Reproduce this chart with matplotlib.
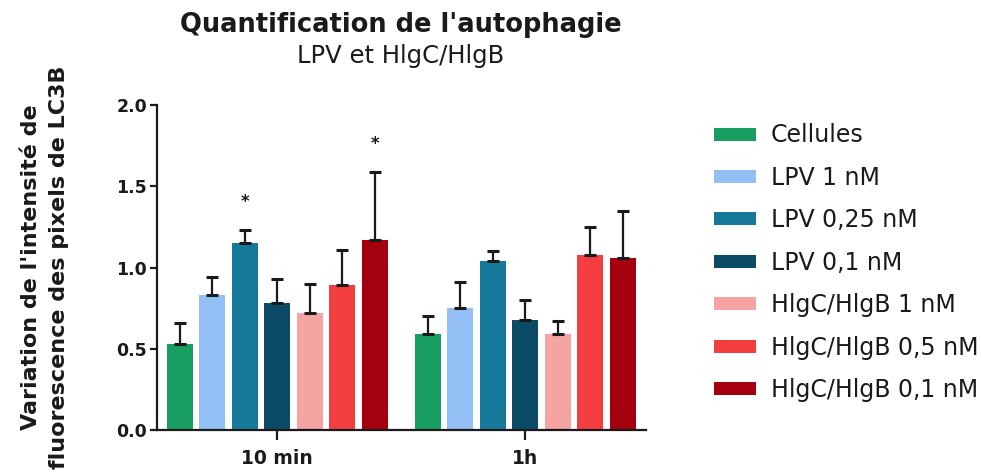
#!/usr/bin/env python3

import numpy as np
import matplotlib
matplotlib.use("Agg")
import matplotlib.pyplot as plt

groups = ["10 min", "1h"]
conditions = ["Cellules", "LPV 1 nM", "LPV 0,25 nM", "LPV 0,1 nM",
              "HlgC/HlgB 1 nM", "HlgC/HlgB 0,5 nM", "HlgC/HlgB 0,1 nM"]
colors = ["#179e60", "#93c0f4", "#16799a", "#0c4b66",
          "#f6a3a3", "#f23e3e", "#a4000e"]

# mean and upper error per condition, one list per time point
mean_10min = [0.53, 0.83, 1.15, 0.78, 0.72, 0.89, 1.17]
err_10min = [0.13, 0.11, 0.08, 0.15, 0.18, 0.22, 0.42]
mean_1h = [0.59, 0.75, 1.04, 0.68, 0.59, 1.08, 1.06]
err_1h = [0.11, 0.16, 0.06, 0.12, 0.08, 0.17, 0.29]

# significant bars: (group index, condition index)
stars = [(0, 2), (0, 6)]

plt.rcParams["font.family"] = ["DejaVu Sans"]

fig = plt.figure(figsize=(9.82, 4.75), dpi=100)
ax = fig.add_axes([0.1596, 0.0947, 0.4983, 0.684])

group_x = np.array([0.0, 7.62])
offsets = np.arange(len(conditions)) - 3
means = [mean_10min, mean_1h]
errs = [err_10min, err_1h]

for i, (name, col) in enumerate(zip(conditions, colors)):
    xs = group_x + offsets[i]
    ys = [means[0][i], means[1][i]]
    es = [errs[0][i], errs[1][i]]
    ax.bar(xs, ys, width=0.8, color=col, label=name, zorder=2)
    ax.errorbar(xs, ys, yerr=[[0, 0], es], fmt="none", ecolor="#1a1a1a",
                elinewidth=1.6, capsize=4.5, capthick=2.2, zorder=3)

for g, i in stars:
    top = means[g][i] + errs[g][i]
    ax.text(group_x[g] + offsets[i], top + 0.14, "*", ha="center",
            va="baseline", fontsize=12, fontweight="bold", color="#1a1a1a")

ax.set_xlim(-3.71, group_x[1] + 3.72)
ax.set_ylim(0, 2.0)
ax.set_yticks(np.arange(0, 2.01, 0.5))
ax.set_yticklabels(["%.1f" % v for v in np.arange(0, 2.01, 0.5)])
ax.set_xticks(group_x)
ax.set_xticklabels(groups)

for side in ("top", "right"):
    ax.spines[side].set_visible(False)
for side in ("left", "bottom"):
    ax.spines[side].set_linewidth(1.6)
    ax.spines[side].set_color("#1a1a1a")

ax.tick_params(axis="y", length=5, width=1.6, pad=2, labelsize=12.5,
               colors="#1a1a1a")
ax.tick_params(axis="x", length=7, width=1.6, pad=7, labelsize=13.5,
               colors="#1a1a1a")
for lbl in ax.get_xticklabels() + ax.get_yticklabels():
    lbl.set_fontweight("bold")

ax.set_ylabel("Variation de l'intensité de\nfluorescence des pixels de LC3B",
              fontsize=16, fontweight="bold", linespacing=1.5,
              color="#1a1a1a")
ax.yaxis.set_label_coords(-0.18, 0.5)

fig.text(0.408, 0.933, "Quantification de l'autophagie", ha="center",
         va="baseline", fontsize=18.5, fontweight="bold", color="#1a1a1a")
fig.text(0.408, 0.867, "LPV et HlgC/HlgB", ha="center", va="baseline",
         fontsize=17.5, color="#1a1a1a")

fig.legend(loc="upper left", bbox_to_anchor=(0.715, 0.765), frameon=False,
           fontsize=17, handlelength=1.78, handleheight=0.47,
           handletextpad=0.64, labelspacing=0.78, borderpad=0,
           labelcolor="#1a1a1a")

fig.savefig("out.png", dpi=100)
